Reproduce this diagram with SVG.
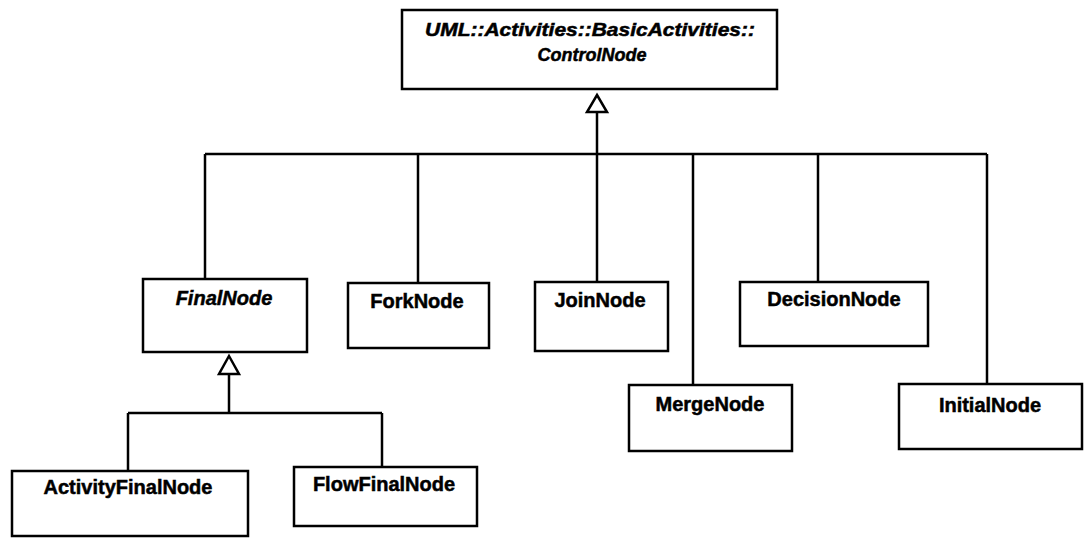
<svg xmlns="http://www.w3.org/2000/svg" width="1088" height="538" viewBox="0 0 1088 538">
  <style>
    .box { fill: #ffffff; stroke: #000000; stroke-width: 2.5; }
    .line { fill: none; stroke: #000000; stroke-width: 2.5; }
    .head { fill: #ffffff; stroke: #000000; stroke-width: 2.5; stroke-linejoin: miter; }
    .label { font-family: "Liberation Sans", Arial, sans-serif; font-size: 20px; font-weight: bold; fill: #000000; stroke: #000000; stroke-width: 0.5; text-anchor: middle; }
    .abstract { font-style: italic; }
    .title { font-size: 18px; }
  </style>
  <rect width="1088" height="538" fill="#ffffff"/>

  <!-- generalization connectors -->
  <g id="connectors">
    <!-- ControlNode hierarchy -->
    <path class="line" d="M597 112 V282"/>
    <path class="line" d="M205 154 H987"/>
    <path class="line" d="M205 154 V279"/>
    <path class="line" d="M418 154 V283"/>
    <path class="line" d="M693 154 V385"/>
    <path class="line" d="M818 154 V282"/>
    <path class="line" d="M987 154 V384"/>
    <polygon class="head" points="597,95 607,112 587,112"/>
    <!-- FinalNode hierarchy -->
    <path class="line" d="M229 374 V413"/>
    <path class="line" d="M128 413 H382"/>
    <path class="line" d="M128 413 V471"/>
    <path class="line" d="M382 413 V467"/>
    <polygon class="head" points="229,356 239,374 219,374"/>
  </g>

  <g id="ControlNode">
    <rect class="box" x="402" y="10" width="375" height="79"/>
    <text class="label abstract title" x="590" y="36" textLength="330" lengthAdjust="spacingAndGlyphs">UML::Activities::BasicActivities::</text>
    <text class="label abstract title" x="592" y="61">ControlNode</text>
  </g>

  <g id="FinalNode">
    <rect class="box" x="143" y="279" width="164" height="73"/>
    <text class="label abstract" x="224" y="305">FinalNode</text>
  </g>

  <g id="ForkNode">
    <rect class="box" x="348" y="283" width="141" height="65"/>
    <text class="label" x="417" y="308">ForkNode</text>
  </g>

  <g id="JoinNode">
    <rect class="box" x="535" y="282" width="133" height="69"/>
    <text class="label" x="600" y="307">JoinNode</text>
  </g>

  <g id="DecisionNode">
    <rect class="box" x="740" y="282" width="188" height="64"/>
    <text class="label" x="834" y="306">DecisionNode</text>
  </g>

  <g id="MergeNode">
    <rect class="box" x="629" y="385" width="163" height="66"/>
    <text class="label" x="710" y="411">MergeNode</text>
  </g>

  <g id="InitialNode">
    <rect class="box" x="899" y="384" width="183" height="65"/>
    <text class="label" x="990" y="412">InitialNode</text>
  </g>

  <g id="ActivityFinalNode">
    <rect class="box" x="12" y="471" width="236" height="65"/>
    <text class="label" x="128" y="494">ActivityFinalNode</text>
  </g>

  <g id="FlowFinalNode">
    <rect class="box" x="294" y="467" width="183" height="59"/>
    <text class="label" x="384" y="491">FlowFinalNode</text>
  </g>
</svg>
